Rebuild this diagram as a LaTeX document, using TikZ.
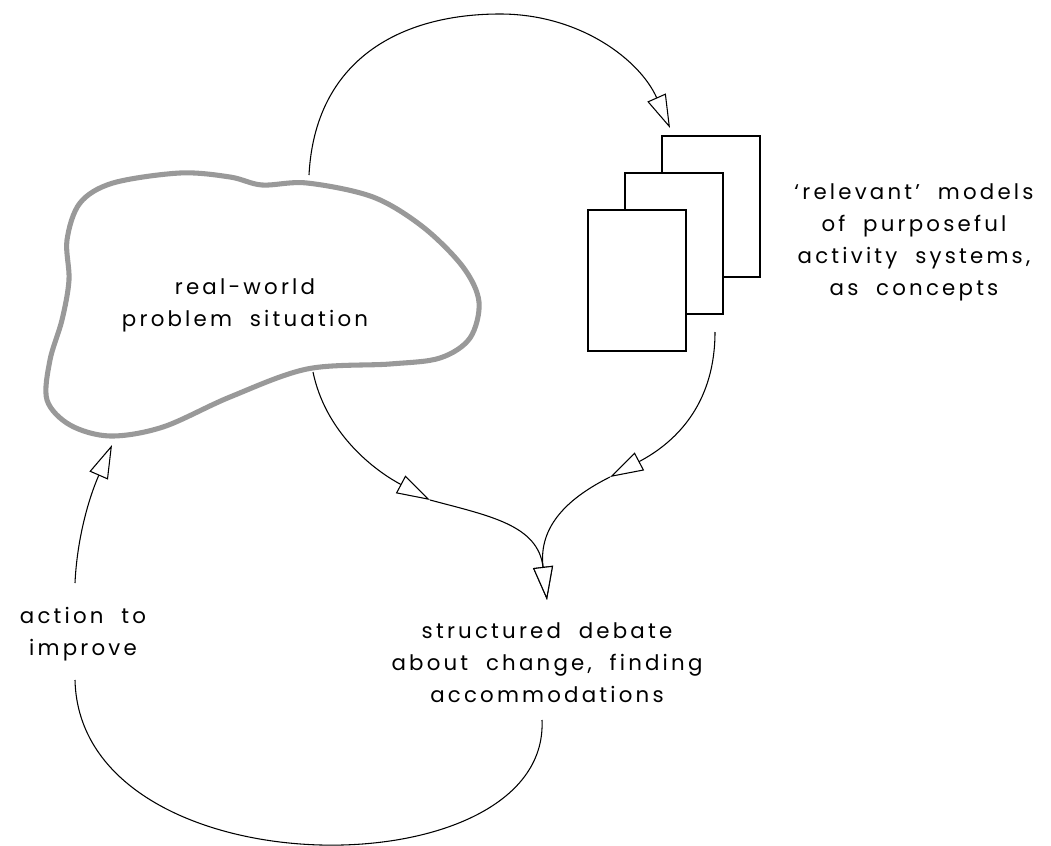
\documentclass[tikz,border=0pt]{standalone}
\usepackage{fontspec}
\setmainfont{Poppins}
\newfontfamily\handfont[LetterSpace=15, WordSpace=2, Ligatures=TeX]{Poppins}
\usetikzlibrary{arrows.meta}

\tikzset{
  label text/.style={font=\handfont\fontsize{16pt}{24pt}\selectfont, text=black, align=center, inner sep=0pt},
  flow/.style={line width=0.8pt, -{Triangle[length=25pt,width=15pt,fill=white,line width=0.8pt]}},
  plainflow/.style={line width=0.8pt},
  page/.style={draw, line width=1.5pt, fill=white, minimum width=73.5pt, minimum height=105.75pt, inner sep=0pt},
  cloud line/.style={draw=black!40, line width=3.8pt, line join=round}
}

\begin{document}
\begin{tikzpicture}[x=0.75pt, y=-0.75pt]
  \useasboundingbox (0,0) rectangle (1051,846);

  % the problem situation, drawn as a rough closed outline
  \draw[cloud line] plot[smooth cycle, tension=0.55] coordinates {
    (180,173) (230,177) (262,185) (307,183) (373,197) (423,227) (463,267)
    (479,302) (470,338) (440,358) (390,364) (307,369) (230,397) (163,427)
    (110,436) (70,425) (47,400) (50,360) (62,320) (69,280) (67,240)
    (80,203) (113,183)};
  \node[label text] (situation) at (245,305) {real-world\\problem situation};

  % stack of model sheets, back to front
  \node[page] (sheet3) at (710.5,206.5) {};
  \node[page] (sheet2) at (673.5,243) {};
  \node[page] (sheet1) at (636.5,280.5) {};
  \node[label text] (models) at (914,242) {‘relevant’ models\\of purposeful\\activity systems,\\as concepts};

  \node[label text] (debate) at (547,663) {structured debate\\about change, finding\\accommodations};
  \node[label text] (action) at (83,634) {action to\\improve};

  % attachment points
  \coordinate (cloudtop) at (309,175);
  \coordinate (cloudbottom) at (313,372);
  \coordinate (cloudleft) at (112,445);
  \coordinate (sheettop) at (670,128);
  \coordinate (sheetbottom) at (715,332);
  \coordinate (leftjoin) at (430,500);
  \coordinate (rightjoin) at (610,477);
  \coordinate (debatetop) at (547,600);
  \coordinate (debatebottom) at (542,720);
  \coordinate (actionbottom) at (75,680);
  \coordinate (actiontop) at (75,583);

  % situation -> models
  \draw[flow] (cloudtop) .. controls (315,60) and (400,14) .. (500,14)
                         .. controls (580,14) and (640,60) .. (sheettop);
  % situation -> debate
  \draw[flow] (cloudbottom) .. controls (325,430) and (370,468) .. (leftjoin);
  \draw[flow] (leftjoin) .. controls (490,516) and (538,525) .. (debatetop);
  % models -> debate
  \draw[flow] (sheetbottom) .. controls (715,400) and (680,440) .. (rightjoin);
  \draw[flow] (rightjoin) .. controls (570,497) and (538,525) .. (debatetop);
  % debate -> action -> situation
  \draw[plainflow] (debatebottom) .. controls (550,893) and (80,893) .. (actionbottom);
  \draw[flow] (actiontop) .. controls (77,540) and (88,500) .. (cloudleft);
\end{tikzpicture}
\end{document}
